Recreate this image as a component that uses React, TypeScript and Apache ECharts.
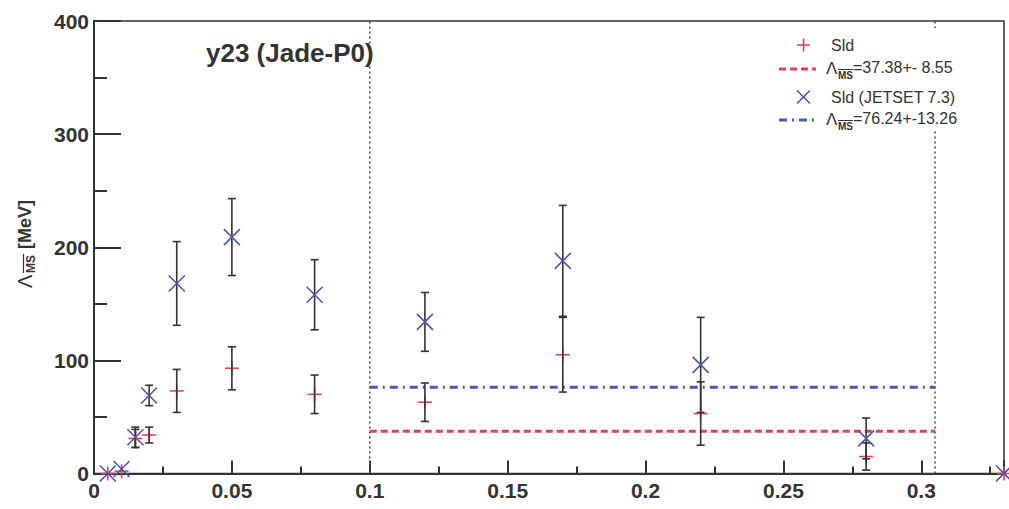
import React, { useEffect, useRef } from 'react';
import * as echarts from 'echarts';

// ---- data ----
const xValues = [0.005, 0.01, 0.015, 0.02, 0.03, 0.05, 0.08, 0.12, 0.17, 0.22, 0.28, 0.33];
const sldValues = [0, 2, 31, 34, 73, 93, 70, 63, 105, 53, 15, 0];
const sldErrors = [0, 0, 8, 7, 19, 19, 17, 17, 33, 28, 12, 0];
const jetsetValues = [0, 4, 32, 69, 168, 209, 158, 134, 188, 96, 31, 0];
const jetsetErrors = [0, 0, 9, 9, 37, 34, 31, 26, 49, 42, 18, 0];
const fitRange = [0.1, 0.305];
const sldFit = 37.38;
const sldFitErr = 8.55;
const jetsetFit = 76.24;
const jetsetFitErr = 13.26;
const cutLines = [0.1, 0.305];
const xTickValues = [0, 0.05, 0.1, 0.15, 0.2, 0.25, 0.3];
const xTickLabels = ['0', '0.05', '0.1', '0.15', '0.2', '0.25', '0.3'];
const yTickLabels = ['0', '100', '200', '300', '400'];
const seriesNames = ['Sld', 'Sld (JETSET 7.3)'];
const plotTitle = 'y23 (Jade-P0)';

const RED = '#e0405c';
const BLUE = '#4c58a8';
const BAR = '#333333';
const TXT = '#333333';
const AXIS = '#333333';
const FONT = '"Liberation Sans", Arial, Helvetica, sans-serif';

const fmtFit = (v: number, e: number) => '=' + v.toFixed(2) + '+-' + e.toFixed(2).padStart(5, ' ');

function errorBar(children: any[], x: number, yLo: number, yHi: number) {
  const cap = 4;
  children.push({ type: 'line', shape: { x1: x, y1: yLo, x2: x, y2: yHi }, style: { stroke: BAR, lineWidth: 1.6 } });
  children.push({ type: 'line', shape: { x1: x - cap, y1: yLo, x2: x + cap, y2: yLo }, style: { stroke: BAR, lineWidth: 1.6 } });
  children.push({ type: 'line', shape: { x1: x - cap, y1: yHi, x2: x + cap, y2: yHi }, style: { stroke: BAR, lineWidth: 1.6 } });
}

function renderSld(_params: any, api: any) {
  const x = api.value(0), v = api.value(1), e = api.value(2);
  const p = api.coord([x, v]);
  const children: any[] = [];
  const m = 7;
  children.push({ type: 'line', shape: { x1: p[0] - m, y1: p[1], x2: p[0] + m, y2: p[1] }, style: { stroke: RED, lineWidth: 1.6 } });
  children.push({ type: 'line', shape: { x1: p[0], y1: p[1] - m, x2: p[0], y2: p[1] + m }, style: { stroke: RED, lineWidth: 1.6 } });
  if (e > 0) {
    const lo = api.coord([x, v - e]);
    const hi = api.coord([x, v + e]);
    errorBar(children, p[0], lo[1], hi[1]);
  }
  return { type: 'group', children };
}

function renderJetset(_params: any, api: any) {
  const x = api.value(0), v = api.value(1), e = api.value(2);
  const p = api.coord([x, v]);
  const children: any[] = [];
  if (e > 0) {
    const lo = api.coord([x, v - e]);
    const hi = api.coord([x, v + e]);
    errorBar(children, p[0], lo[1], hi[1]);
  }
  const m = 8;
  children.push({ type: 'line', shape: { x1: p[0] - m, y1: p[1] - m, x2: p[0] + m, y2: p[1] + m }, style: { stroke: BLUE, lineWidth: 1.6 } });
  children.push({ type: 'line', shape: { x1: p[0] - m, y1: p[1] + m, x2: p[0] + m, y2: p[1] - m }, style: { stroke: BLUE, lineWidth: 1.6 } });
  return { type: 'group', children };
}

function txt(text: string, x: number, y: number, size: number, weight: string = 'normal', align: string = 'left', extra: any = {}) {
  return {
    type: 'text',
    x,
    y,
    z: 20,
    ...extra,
    style: {
      text,
      fontSize: size,
      fontFamily: FONT,
      fontWeight: weight,
      fill: TXT,
      align,
      verticalAlign: 'middle',
      textAlign: align,
      textVerticalAlign: 'middle',
    },
  };
}

function lambdaLabel(x: number, y: number, value: string) {
  return [
    txt('Λ', x, y, 17),
    txt('MS', x + 12, y + 7, 10, 'bold'),
    { type: 'line', z: 20, shape: { x1: x + 12, y1: y + 1.5, x2: x + 27, y2: y + 1.5 }, style: { stroke: TXT, lineWidth: 1 } },
    txt(value, x + 27, y - 1, 16),
  ];
}

export default function App() {
  const ref = useRef<HTMLDivElement>(null);
  useEffect(() => {
    if (!ref.current) return;
    const chart = echarts.init(ref.current, undefined, { renderer: 'svg' });
    const sldData = xValues.map((x, i) => [x, sldValues[i], sldErrors[i]]);
    const jetData = xValues.map((x, i) => [x, jetsetValues[i], jetsetErrors[i]]);
    const isMajor = (v: number) => xTickValues.some((t) => Math.abs(t - v) < 1e-6);
    const labelFor = (v: number) => {
      const i = xTickValues.findIndex((t) => Math.abs(t - v) < 1e-6);
      return i >= 0 ? xTickLabels[i] : '';
    };

    const option: any = {
      animation: false,
      backgroundColor: '#ffffff',
      grid: {
        left: 94,
        right: 5,
        top: 21,
        bottom: 35.5,
        show: true,
        borderColor: AXIS,
        borderWidth: 1.5,
        backgroundColor: 'transparent',
      },
      xAxis: [
        {
          type: 'value',
          min: 0,
          max: 0.33,
          interval: 0.05,
          axisLine: { show: true, onZero: false, lineStyle: { color: AXIS, width: 2 } },
          axisTick: { show: true, inside: true, length: 13, lineStyle: { color: AXIS, width: 2 } },
          axisLabel: {
            show: true,
            margin: 6,
            color: TXT,
            fontSize: 21,
            fontWeight: 'bold',
            fontFamily: FONT,
            formatter: (v: number) => (isMajor(v) ? labelFor(v) : ''),
          },
          splitLine: { show: false },
        },
        {
          type: 'value',
          min: 0,
          max: 0.33,
          interval: 0.025,
          position: 'bottom',
          axisLine: { show: false },
          axisTick: { show: true, inside: true, length: 7, lineStyle: { color: AXIS, width: 2 } },
          axisLabel: { show: false },
          splitLine: { show: false },
        },
      ],
      yAxis: {
        type: 'value',
        min: 0,
        max: 400,
        interval: 100,
        axisLine: { show: true, onZero: false, lineStyle: { color: AXIS, width: 2 } },
        axisTick: { show: true, inside: true, length: 27, lineStyle: { color: AXIS, width: 2 } },
        minorTick: { show: true, splitNumber: 2, length: 13, lineStyle: { color: AXIS, width: 2 } },
        axisLabel: {
          margin: 5,
          color: TXT,
          fontSize: 21,
          fontWeight: 'bold',
          fontFamily: FONT,
          formatter: (v: number) => yTickLabels[Math.round(v / 100)] ?? '',
        },
        splitLine: { show: false },
      },
      series: [
        ...cutLines.map((c) => ({
          type: 'line',
          xAxisIndex: 0,
          silent: true,
          symbol: 'none',
          z: 1,
          data: [[c, 0], [c, 400]],
          lineStyle: { color: '#444', width: 1.5, type: [2, 3] },
        })),
        {
          type: 'line',
          name: 'sldFit',
          xAxisIndex: 0,
          symbol: 'none',
          z: 2,
          data: fitRange.map((x) => [x, sldFit]),
          lineStyle: { color: RED, width: 3, type: [7, 4] },
        },
        {
          type: 'line',
          name: 'jetFit',
          xAxisIndex: 0,
          symbol: 'none',
          z: 2,
          data: fitRange.map((x) => [x, jetsetFit]),
          lineStyle: { color: BLUE, width: 3, type: [8, 5, 2, 5] },
        },
        {
          type: 'custom',
          name: seriesNames[0],
          xAxisIndex: 0,
          clip: false,
          z: 3,
          renderItem: renderSld,
          encode: { x: 0, y: 1 },
          data: sldData,
        },
        {
          type: 'custom',
          name: seriesNames[1],
          xAxisIndex: 0,
          clip: false,
          z: 4,
          renderItem: renderJetset,
          encode: { x: 0, y: 1 },
          data: jetData,
        },
      ],
      graphic: [
        { type: 'rect', z: 15, shape: { x: 770, y: 28, width: 230, height: 102 }, style: { fill: '#ffffff' } },
        { type: 'line', z: 20, shape: { x1: 797, y1: 45, x2: 810, y2: 45 }, style: { stroke: RED, lineWidth: 1.6 } },
        { type: 'line', z: 20, shape: { x1: 803.5, y1: 38.5, x2: 803.5, y2: 51.5 }, style: { stroke: RED, lineWidth: 1.6 } },
        txt(seriesNames[0], 831, 45, 16),
        { type: 'line', z: 20, shape: { x1: 779, y1: 69, x2: 816, y2: 69 }, style: { stroke: RED, lineWidth: 3, lineDash: [7, 4] } },
        ...lambdaLabel(826, 68, fmtFit(sldFit, sldFitErr)),
        { type: 'line', z: 20, shape: { x1: 797, y1: 90.5, x2: 810, y2: 103.5 }, style: { stroke: BLUE, lineWidth: 1.6 } },
        { type: 'line', z: 20, shape: { x1: 797, y1: 103.5, x2: 810, y2: 90.5 }, style: { stroke: BLUE, lineWidth: 1.6 } },
        txt(seriesNames[1], 831, 97, 16),
        { type: 'line', z: 20, shape: { x1: 779, y1: 120, x2: 816, y2: 120 }, style: { stroke: BLUE, lineWidth: 3, lineDash: [8, 5, 2, 5] } },
        ...lambdaLabel(826, 119, fmtFit(jetsetFit, jetsetFitErr)),
        txt(plotTitle, 206, 53, 26, 'bold'),
        {
          type: 'group',
          x: 25,
          y: 288,
          rotation: Math.PI / 2,
          z: 20,
          children: [
            txt('Λ', 0, 0, 20),
            txt('MS', 15, 6, 12, 'bold'),
            { type: 'line', z: 20, shape: { x1: 15, y1: -1.5, x2: 34, y2: -1.5 }, style: { stroke: TXT, lineWidth: 1.2 } },
            txt('[MeV]', 39, 0, 18, 'bold'),
          ],
        },
      ],
    };
    chart.setOption(option);
    return () => chart.dispose();
  }, []);
  return (
    <div
      ref={ref}
      style={{ position: 'absolute', left: 0, top: 0, width: 1009, height: 509, background: '#fff' }}
    />
  );
}
